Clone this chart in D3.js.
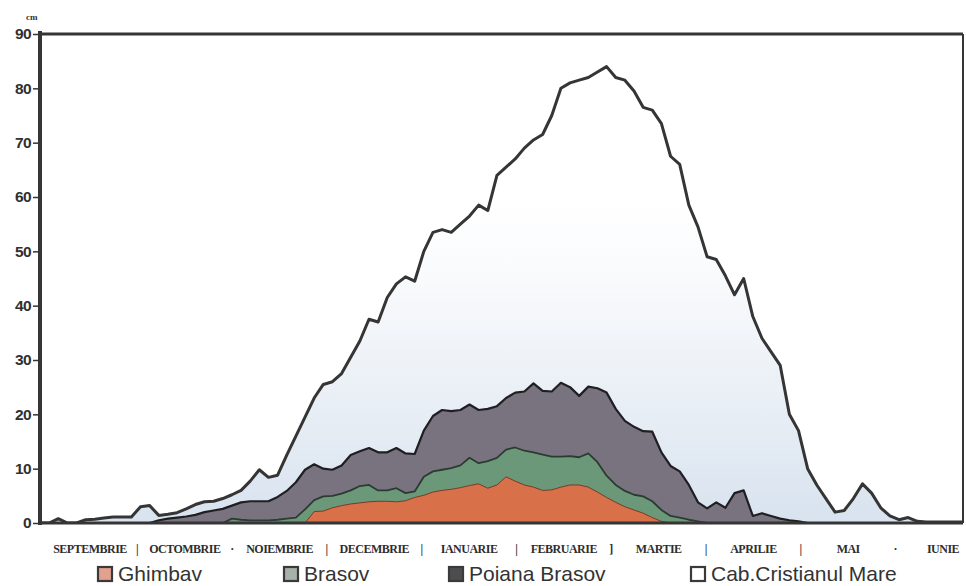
<!DOCTYPE html>
<html><head><meta charset="utf-8">
<script src="https://cdn.jsdelivr.net/npm/d3@7"></script>
<style>body{margin:0;background:#fff}</style>
</head><body><svg id="c" width="966" height="586"></svg>
<script>
// ---------------- DATA ----------------
const months = ["SEPTEMBRIE","OCTOMBRIE","NOIEMBRIE","DECEMBRIE","IANUARIE","FEBRUARIE","MARTIE","APRILIE","MAI","IUNIE"];
const separators = ["|","·","|","|","|","]","|","|","·"];
const yTicks = [0,10,20,30,40,50,60,70,80,90];
const unitLabel = "cm";
const seriesNames = ["Ghimbav","Brasov","Poiana Brasov","Cab.Cristianul Mare"];
// day index from 1 September, every 3rd day
const days = d3.range(0, 304, 3);
const cristianul = [0,0,0.8,0,0,0.6,0.7,0.9,1.1,1.1,1.1,3,3.2,1.4,1.6,1.9,2.6,3.4,3.9,4,4.5,5.2,6,7.7,9.8,8.4,8.8,12.5,16,19.5,23,25.5,26,27.5,30.5,33.5,37.5,37,41.5,44,45.3,44.5,50,53.5,54,53.5,55,56.5,58.5,57.5,64,65.5,67,69,70.5,71.5,75,80,81,81.5,82,83,84,82,81.5,79.5,76.5,76,73.5,67.5,66,58.5,54.5,49,48.5,45.5,42,45,38,34,31.5,29,20,17,10,7,4.5,2,2.3,4.5,7.2,5.5,2.8,1.3,0.6,1,0.3,0.2,0.2,0.2,0.2,0.2];
const poiana = [0,0,0,0,0,0,0,0,0,0,0,0,0,0.5,0.8,1,1.2,1.5,2,2.3,2.6,3.2,3.8,4,4,4,4.8,5.9,7.5,9.8,10.8,10,9.8,10.6,12.5,13.2,13.8,13,13,13.8,12.8,12.7,17,19.7,20.8,20.6,20.8,21.8,20.8,21,21.5,23,24,24.2,25.7,24.3,24.2,25.8,25,23.4,25.1,24.8,24,21,18.8,17.7,16.9,16.8,13,10.5,9.5,7,3.8,2.7,3.8,2.8,5.5,6,1.3,1.8,1.3,0.8,0.5,0.3,0,0,0,0,0,0,0,0,0,0,0,0,0,0,0,0,0,0];
const brasov = [0,0,0,0,0,0,0,0,0,0,0,0,0,0,0,0,0,0,0,0,0,0.8,0.6,0.5,0.5,0.5,0.6,0.8,1,2.5,4.2,4.9,5,5.4,6,6.8,7,6,6,6.4,5.5,5.8,8.5,9.5,9.8,10.1,10.6,12,11,11.4,12,13.5,13.9,13.3,13,12.6,12.2,12.2,12.3,12.1,12.8,11.2,8.7,7,5.9,5.2,4.9,4,2.4,1.3,1,0.6,0.3,0,0,0,0,0,0,0,0,0,0,0,0,0,0,0,0,0,0,0,0,0,0,0,0,0,0,0,0,0];
const ghimbav = [0,0,0,0,0,0,0,0,0,0,0,0,0,0,0,0,0,0,0,0,0,0,0,0,0,0,0,0,0,0,2.1,2.2,2.8,3.2,3.5,3.7,3.9,4,4,3.9,4.1,4.7,5.1,5.7,6,6.2,6.5,6.9,7.2,6.4,7,8.5,7.7,7,6.6,6,6.1,6.6,7,7,6.6,5.7,4.7,3.8,3,2.4,1.8,1,0.3,0,0,0,0,0,0,0,0,0,0,0,0,0,0,0,0,0,0,0,0,0,0,0,0,0,0,0,0,0,0,0,0,0];

// ---------------- CHART ----------------
const svg = d3.select("#c");
const L = 40, R = 963, T = 34, B = 523;
const x = d3.scaleLinear().domain([0, 303]).range([L, R]);
const y = d3.scaleLinear().domain([0, 90]).range([B, T]);
const ink = "#353535";

const defs = svg.append("defs");
const grad = defs.append("linearGradient").attr("id","tint")
  .attr("gradientUnits","userSpaceOnUse").attr("x1",0).attr("x2",0).attr("y1",B).attr("y2",200);
grad.append("stop").attr("offset",0).attr("stop-color","#d8e3ef");
grad.append("stop").attr("offset",0.35).attr("stop-color","#e8eef5");
grad.append("stop").attr("offset",0.75).attr("stop-color","#f8fafc");
grad.append("stop").attr("offset",1).attr("stop-color","#ffffff");
defs.append("clipPath").attr("id","clip").append("rect")
  .attr("x",L).attr("y",T).attr("width",R-L).attr("height",B-T);

const g = svg.append("g").attr("clip-path","url(#clip)");
const mk = arr => days.map((d,i)=>({d, v: arr[i]}));
const area = d3.area().x(p=>x(p.d)).y0(y(0)).y1(p=>y(p.v));
const line = d3.line().x(p=>x(p.d)).y(p=>y(p.v));

const layers = [
  {data: cristianul, fill: "url(#tint)", stroke: ink, sw: 3},
  {data: poiana, fill: "#79737f", stroke: "#1f1f22", sw: 2.2},
  {data: brasov, fill: "#6c987a", stroke: "#2c3b31", sw: 1.8},
  {data: ghimbav, fill: "#d8704a", stroke: "#7a3a25", sw: 1}
];
layers.forEach(l=>{
  const pts = mk(l.data);
  g.append("path").attr("d", area(pts)).attr("fill", l.fill);
  g.append("path").attr("d", line(pts)).attr("fill","none")
    .attr("stroke", l.stroke).attr("stroke-width", l.sw).attr("stroke-linejoin","round");
});

// frame
svg.append("line").attr("x1",L).attr("x2",L).attr("y1",T-3).attr("y2",B+2).attr("stroke",ink).attr("stroke-width",4);
svg.append("line").attr("x1",L).attr("x2",R).attr("y1",T).attr("y2",T).attr("stroke",ink).attr("stroke-width",3);
svg.append("line").attr("x1",R).attr("x2",R).attr("y1",T).attr("y2",B).attr("stroke",ink).attr("stroke-width",2);
svg.append("line").attr("x1",L).attr("x2",R).attr("y1",B).attr("y2",B).attr("stroke",ink).attr("stroke-width",3);

// y axis
const ya = svg.append("g").attr("transform",`translate(${L-2},0)`)
  .call(d3.axisLeft(y).tickValues(yTicks).tickSize(5).tickPadding(2));
ya.select(".domain").remove();
ya.selectAll(".tick line").attr("stroke",ink).attr("stroke-width",1.5);
ya.selectAll(".tick text").attr("fill","#303030")
  .style("font-family","'Liberation Sans', Arial, sans-serif")
  .style("font-weight","bold").style("font-size","15.5px").style("letter-spacing","-0.6px");

svg.append("text").attr("x",26).attr("y",20).text(unitLabel)
  .attr("fill","#333").style("font-family","'Liberation Serif', serif")
  .style("font-size","9px").style("font-weight","bold");

// month labels
const mx = d3.scalePoint().domain(months).range([90, 943]);
const monthFont = "'Liberation Serif', 'Times New Roman', serif";
svg.append("g").selectAll("text").data(months).join("text")
  .attr("x", d=>mx(d)).attr("y", 553).attr("text-anchor","middle")
  .attr("fill","#2e2e2e").style("font-family",monthFont).style("font-weight","bold")
  .style("font-size","12px").style("letter-spacing","-0.5px").text(d=>d);
svg.append("g").selectAll("text").data(separators).join("text")
  .attr("x",(d,i)=>(mx(months[i])+mx(months[i+1]))/2).attr("y",553).attr("text-anchor","middle")
  .attr("fill","#2e2e2e").style("font-family",monthFont).style("font-weight","bold")
  .style("font-size","12px").text(d=>d);

// legend
const legX = [97, 283, 448, 690];
const legFill = ["#e3a08c","#a7b0a9","#4d4d50","#ffffff"];
const lg = svg.append("g");
seriesNames.forEach((n,i)=>{
  const gi = lg.append("g").attr("transform",`translate(${legX[i]},0)`);
  gi.append("rect").attr("x",1).attr("y",567).attr("width",14).attr("height",14)
    .attr("fill",legFill[i]).attr("stroke","#3a3a3a").attr("stroke-width",2.2);
  gi.append("text").attr("x",21).attr("y",581).text(n).attr("fill","#333")
    .style("font-family","'Liberation Sans', Arial, sans-serif").style("font-size","21px");
});
</script></body></html>
